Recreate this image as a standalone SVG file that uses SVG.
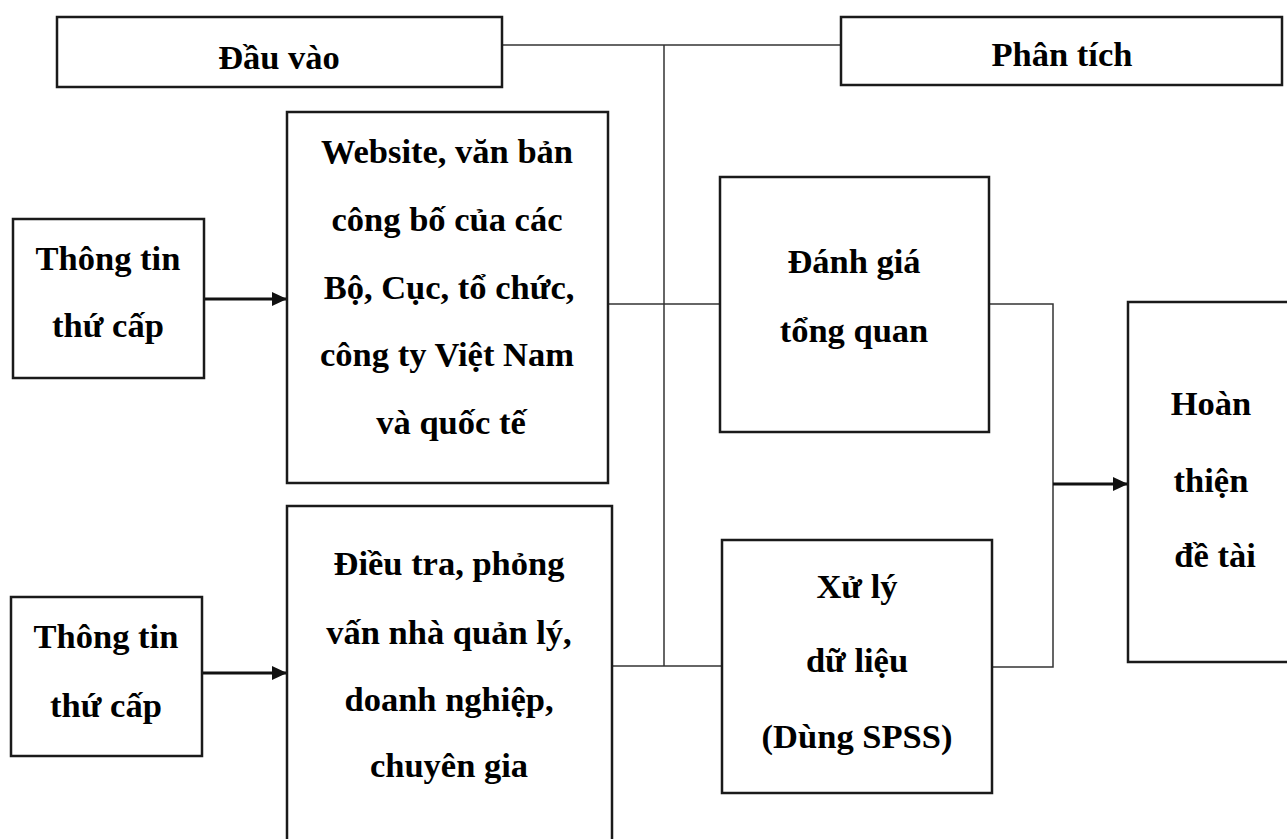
<svg xmlns="http://www.w3.org/2000/svg" width="1287" height="839" viewBox="0 0 1287 839">
<defs>
<style>
.box{fill:#fff;stroke:#1a1a1a;stroke-width:2.5}
.ln{fill:none;stroke:#333;stroke-width:1.5}
.ar{fill:none;stroke:#111;stroke-width:3}
text{font-family:"Liberation Serif","Times New Roman",serif;font-weight:bold;font-size:34.5px;fill:#000;text-anchor:middle}
</style>
<marker id="ah" markerUnits="userSpaceOnUse" markerWidth="16" markerHeight="14" refX="15" refY="7" orient="auto">
<path d="M0,0 L15,7 L0,14 Z" fill="#111"/>
</marker>
</defs>
<rect width="1287" height="839" fill="#fff"/>
<g id="connectors">
<path class="ln" d="M502,45 H840"/>
<path class="ln" d="M664,45 V666"/>
<path class="ln" d="M608,304 H720"/>
<path class="ln" d="M612,666 H722"/>
<path class="ln" d="M989,304 H1053 V667 H992"/>
<line class="ar" x1="204" y1="299" x2="287" y2="299" marker-end="url(#ah)"/>
<line class="ar" x1="202" y1="673" x2="287" y2="673" marker-end="url(#ah)"/>
<line class="ar" x1="1053" y1="484" x2="1128" y2="484" marker-end="url(#ah)"/>
</g>
<g id="dau-vao">
<rect class="box" x="57" y="17" width="445" height="70"/>
<text x="279" y="69">Đầu vào</text>
</g>
<g id="phan-tich">
<rect class="box" x="841" y="17" width="441" height="68"/>
<text x="1062" y="66">Phân tích</text>
</g>
<g id="thong-tin-1">
<rect class="box" x="13" y="219" width="191" height="159"/>
<text x="108" y="270">Thông tin</text>
<text x="108" y="337">thứ cấp</text>
</g>
<g id="website">
<rect class="box" x="287" y="112" width="321" height="371"/>
<text x="447" y="163">Website, văn bản</text>
<text x="447" y="231">công bố của các</text>
<text x="449" y="299">Bộ, Cục, tổ chức,</text>
<text x="447" y="366">công ty Việt Nam</text>
<text x="451" y="434">và quốc tế</text>
</g>
<g id="thong-tin-2">
<rect class="box" x="11" y="597" width="191" height="159"/>
<text x="106" y="648">Thông tin</text>
<text x="106" y="717">thứ cấp</text>
</g>
<g id="dieu-tra">
<rect class="box" x="287" y="506" width="325" height="360"/>
<text x="449" y="575">Điều tra, phỏng</text>
<text x="449" y="644">vấn nhà quản lý,</text>
<text x="449" y="711">doanh nghiệp,</text>
<text x="449" y="777">chuyên gia</text>
</g>
<g id="danh-gia">
<rect class="box" x="720" y="177" width="269" height="255"/>
<text x="854" y="273">Đánh giá</text>
<text x="854" y="342">tổng quan</text>
</g>
<g id="xu-ly">
<rect class="box" x="722" y="540" width="270" height="253"/>
<text x="857" y="598">Xử lý</text>
<text x="857" y="672">dữ liệu</text>
<text x="857" y="748">(Dùng SPSS)</text>
</g>
<g id="hoan-thien">
<rect class="box" x="1128" y="302" width="170" height="360"/>
<text x="1211" y="415">Hoàn</text>
<text x="1211" y="492">thiện</text>
<text x="1215" y="567">đề tài</text>
</g>
</svg>
